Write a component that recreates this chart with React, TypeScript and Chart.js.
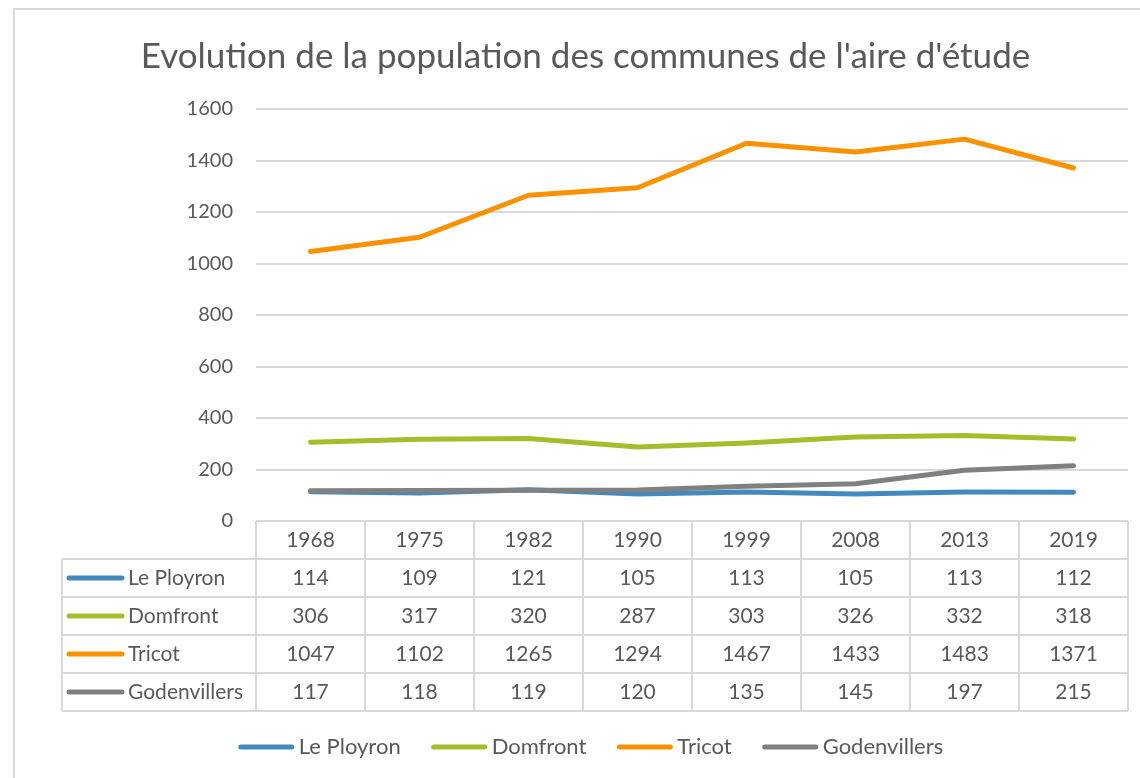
import React, { useEffect, useRef } from "react";
import { Chart, registerables } from "chart.js";

Chart.register(...registerables);

const title = "Evolution de la population des communes de l'aire d'étude";
const years = ["1968", "1975", "1982", "1990", "1999", "2008", "2013", "2019"];
const communes = ["Le Ployron", "Domfront", "Tricot", "Godenvillers"];
const lePloyron = [114, 109, 121, 105, 113, 105, 113, 112];
const domfront = [306, 317, 320, 287, 303, 326, 332, 318];
const tricot = [1047, 1102, 1265, 1294, 1467, 1433, 1483, 1371];
const godenvillers = [117, 118, 119, 120, 135, 145, 197, 215];
const seriesValues = [lePloyron, domfront, tricot, godenvillers];
const seriesColors = ["#4389BD", "#A5BD2A", "#FA9200", "#808080"];
const yMin = 0;
const yMax = 1600;
const yStep = 200;

const FONT = "Lato";
const TEXT = "#595959";
const GRID = "#D9D9D9";

const framePlugin = {
  id: "frame",
  beforeDraw(chart: any) {
    const ctx = chart.ctx;
    ctx.save();
    ctx.fillStyle = "#ffffff";
    ctx.fillRect(0, 0, chart.width, chart.height);
    ctx.strokeStyle = GRID;
    ctx.lineWidth = 2;
    ctx.strokeRect(14, 9, chart.width + 100, chart.height + 100);
    ctx.restore();
  },
};

const tablePlugin = {
  id: "dataTable",
  afterDraw(chart: any) {
    const ctx = chart.ctx;
    const area = chart.chartArea;
    const xs = chart.scales.x;
    const labels = chart.data.labels as string[];
    const datasets = chart.data.datasets as any[];
    const n = labels.length;
    const colW = (area.right - area.left) / n;
    const rowH = 38;
    const keyLeft = area.left - 194;
    const top = area.bottom;
    const rows = datasets.length + 1;
    const bottom = top + rows * rowH;

    ctx.save();
    ctx.strokeStyle = GRID;
    ctx.lineWidth = 2;
    ctx.beginPath();
    for (let r = 0; r <= rows; r++) {
      const y = top + r * rowH;
      ctx.moveTo(r === 0 ? area.left : keyLeft, y);
      ctx.lineTo(area.right, y);
    }
    ctx.moveTo(keyLeft, top + rowH);
    ctx.lineTo(keyLeft, bottom);
    for (let i = 0; i <= n; i++) {
      const x = area.left + i * colW;
      ctx.moveTo(x, top);
      ctx.lineTo(x, bottom);
    }
    ctx.stroke();

    ctx.font = `21px ${FONT}`;
    ctx.fillStyle = TEXT;
    ctx.textBaseline = "middle";
    ctx.textAlign = "center";
    labels.forEach((lab, i) => {
      ctx.fillText(lab, xs.getPixelForValue(i), top + rowH / 2);
    });

    datasets.forEach((ds, r) => {
      const yc = top + (r + 1) * rowH + rowH / 2;
      ctx.strokeStyle = ds.borderColor;
      ctx.lineWidth = 5;
      ctx.lineCap = "round";
      ctx.beginPath();
      ctx.moveTo(keyLeft + 7, yc);
      ctx.lineTo(keyLeft + 60, yc);
      ctx.stroke();
      ctx.fillStyle = TEXT;
      ctx.textAlign = "left";
      ctx.fillText(ds.label, keyLeft + 66, yc);
      ctx.textAlign = "center";
      (ds.data as number[]).forEach((v, i) => {
        ctx.fillText(String(v), xs.getPixelForValue(i), yc);
      });
    });

    // legend
    ctx.font = `22px ${FONT}`;
    const lineLen = 55;
    const gapText = 5;
    const gapItem = 31;
    const widths = datasets.map((ds) => ctx.measureText(ds.label).width);
    const total =
      widths.reduce((a, w) => a + lineLen + gapText + w, 0) + gapItem * (datasets.length - 1);
    let x = (keyLeft + area.right) / 2 - 4 - total / 2;
    const ly = 747;
    datasets.forEach((ds, i) => {
      ctx.strokeStyle = ds.borderColor;
      ctx.lineWidth = 5;
      ctx.lineCap = "round";
      ctx.beginPath();
      ctx.moveTo(x + 2, ly);
      ctx.lineTo(x + lineLen - 2, ly);
      ctx.stroke();
      ctx.fillStyle = TEXT;
      ctx.textAlign = "left";
      ctx.fillText(ds.label, x + lineLen + gapText, ly);
      x += lineLen + gapText + widths[i] + gapItem;
    });
    ctx.restore();
  },
};

export default function App() {
  const canvasRef = useRef<HTMLCanvasElement | null>(null);

  useEffect(() => {
    if (!canvasRef.current) return;
    const chart = new Chart(canvasRef.current, {
      type: "line",
      data: {
        labels: years,
        datasets: communes.map((name, i) => ({
          label: name,
          data: seriesValues[i],
          borderColor: seriesColors[i],
          backgroundColor: seriesColors[i],
          borderWidth: 5,
          pointRadius: 0,
          borderCapStyle: "round" as const,
          borderJoinStyle: "round" as const,
          tension: 0,
          order: communes.length - i,
        })),
      },
      options: {
        animation: false,
        responsive: true,
        maintainAspectRatio: false,
        layout: { padding: { left: 43, right: 12, top: 0, bottom: 0 } },
        plugins: {
          legend: { display: false },
          tooltip: { enabled: false },
          title: {
            display: true,
            text: title,
            color: TEXT,
            font: { family: FONT, size: 35, weight: "normal", lineHeight: 1.2 },
            padding: { top: 35.5, bottom: 31.5 },
          },
        },
        scales: {
          x: {
            type: "category",
            offset: true,
            grid: { display: false },
            border: { display: false },
            ticks: { display: false },
            afterFit(scale: any) {
              scale.height = 257;
            },
          },
          y: {
            min: yMin,
            max: yMax,
            grid: { color: GRID, lineWidth: 2, drawTicks: false },
            border: { display: false },
            ticks: {
              stepSize: yStep,
              padding: 23,
              color: TEXT,
              font: { family: FONT, size: 20 },
              callback: (value: any) => String(value),
            },
            afterFit(scale: any) {
              scale.width = 213;
            },
          },
        },
      },
      plugins: [framePlugin, tablePlugin],
    });
    return () => chart.destroy();
  }, []);

  return (
    <div style={{ position: "absolute", left: 0, top: 0, width: 1140, height: 778 }}>
      <canvas ref={canvasRef} />
    </div>
  );
}
